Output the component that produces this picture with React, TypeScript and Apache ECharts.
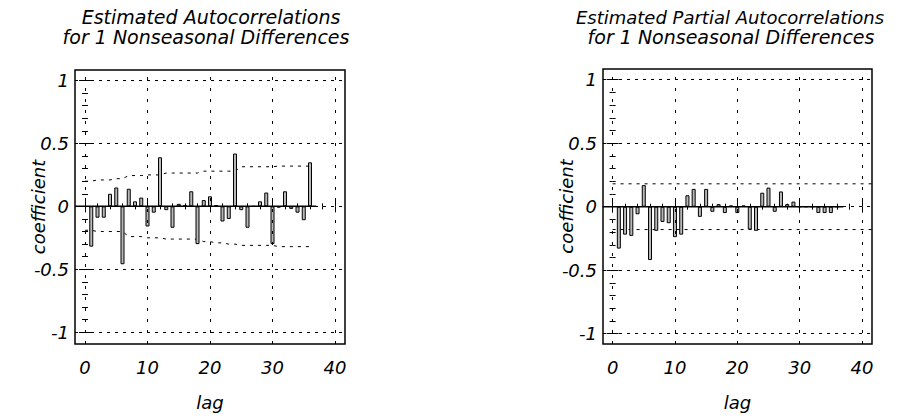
import React, { useEffect, useRef } from 'react';
import * as echarts from 'echarts';

const FONT = '"DejaVu Sans", "Liberation Sans", sans-serif';

// lags of the bars
const lags = [1, 2, 3, 4, 5, 6, 7, 8, 9, 10, 11, 12, 13, 14, 15, 16, 17, 18, 19, 20, 21, 22, 23, 24, 25, 26, 27, 28, 29, 30, 31, 32, 33, 34, 35, 36];

// estimated autocorrelations (left)
const acfValues = [-0.32, -0.09, -0.09, 0.1, 0.15, -0.46, 0.14, 0.04, 0.07, -0.16, -0.05, 0.39, -0.03, -0.17, 0.02, 0.01, 0.12, -0.3, 0.05, 0.08, 0.01, -0.12, -0.1, 0.42, -0.03, -0.17, 0.0, 0.04, 0.11, -0.3, -0.01, 0.12, -0.02, -0.05, -0.11, 0.35];

// confidence band of the autocorrelations (left)
const acfBandLags = [0, 1, 2, 3, 4, 5, 6, 7, 8, 9, 10, 11, 12, 13, 14, 15, 16, 17, 18, 19, 20, 21, 22, 23, 24, 25, 26, 27, 28, 29, 30, 31, 32, 33, 34, 35, 36];
const acfBandUpper = [0.2, 0.2, 0.21, 0.21, 0.21, 0.22, 0.22, 0.245, 0.245, 0.245, 0.25, 0.25, 0.25, 0.265, 0.265, 0.265, 0.265, 0.265, 0.265, 0.28, 0.28, 0.28, 0.28, 0.28, 0.28, 0.315, 0.315, 0.315, 0.315, 0.315, 0.315, 0.32, 0.32, 0.32, 0.32, 0.32, 0.32];
const acfBandLower = [-0.19, -0.19, -0.2, -0.2, -0.2, -0.2, -0.2, -0.24, -0.24, -0.24, -0.25, -0.25, -0.25, -0.26, -0.26, -0.26, -0.26, -0.26, -0.26, -0.28, -0.28, -0.29, -0.29, -0.3, -0.3, -0.31, -0.31, -0.31, -0.31, -0.31, -0.31, -0.32, -0.32, -0.32, -0.32, -0.32, -0.32];

// estimated partial autocorrelations (right)
const pacfValues = [-0.33, -0.22, -0.23, -0.06, 0.17, -0.42, -0.19, -0.12, -0.13, -0.24, -0.22, 0.09, 0.14, -0.08, 0.14, -0.04, 0.02, -0.05, 0.01, -0.05, 0.01, -0.18, -0.19, 0.11, 0.15, -0.04, 0.12, 0.02, 0.04, 0.0, 0.0, 0.0, -0.05, -0.05, -0.05, 0.0];

// confidence band of the partial autocorrelations (right)
const pacfBandLags = [0, 41.6];
const pacfBandUpper = [0.18, 0.18];
const pacfBandLower = [-0.18, -0.18];

// solid zero line extent
const zeroLineLags = [-1.6, 37];

// ticks
const xTickLabels = [0, 10, 20, 30, 40];
const yTickLabels = [-1, -0.5, 0, 0.5, 1];
const xMinorTicks = [2, 4, 6, 8, 12, 14, 16, 18, 22, 24, 26, 28, 32, 34, 36, 38];
const yMinorTicks = [-0.9, -0.8, -0.7, -0.6, -0.4, -0.3, -0.2, -0.1, 0.1, 0.2, 0.3, 0.4, 0.6, 0.7, 0.8, 0.9];

const titleLines = [
  ['Estimated Autocorrelations', 'for 1 Nonseasonal Differences'],
  ['Estimated Partial Autocorrelations', 'for 1 Nonseasonal Differences'],
];

const textStyle = { color: '#000', fontSize: 18, fontStyle: 'italic' as const, fontFamily: FONT };

function buildAxes(gridIndex: number, xMin: number, xMax: number, yMin: number, yMax: number) {
  const tickLine = { color: '#000', width: 1 };
  const xBase = (position: string) => ({
    gridIndex,
    type: 'value',
    position,
    min: xMin,
    max: xMax,
    axisLine: { show: false },
    splitLine: { show: false },
  });
  const yBase = (position: string) => ({
    gridIndex,
    type: 'value',
    position,
    min: yMin,
    max: yMax,
    axisLine: { show: false },
    splitLine: { show: false },
  });
  const xAxes = [
    {
      ...xBase('bottom'),
      axisTick: { show: true, inside: true, length: 6, customValues: xTickLabels, lineStyle: tickLine },
      axisLabel: { show: true, customValues: xTickLabels, margin: 14, ...textStyle },
      name: 'lag',
      nameLocation: 'middle',
      nameGap: 49,
      nameMoveOverlap: false,
      nameTextStyle: textStyle,
    },
    {
      ...xBase('bottom'),
      axisTick: { show: true, inside: true, length: 3, customValues: xMinorTicks, lineStyle: tickLine },
      axisLabel: { show: false },
    },
    {
      ...xBase('top'),
      axisTick: { show: true, inside: true, length: 6, customValues: xTickLabels, lineStyle: tickLine },
      axisLabel: { show: false },
    },
    {
      ...xBase('top'),
      axisTick: { show: true, inside: true, length: 3, customValues: xMinorTicks, lineStyle: tickLine },
      axisLabel: { show: false },
    },
  ];
  const yAxes = [
    {
      ...yBase('left'),
      axisTick: { show: true, inside: true, length: 6, customValues: yTickLabels, lineStyle: tickLine },
      axisLabel: { show: true, customValues: yTickLabels, margin: 6, ...textStyle },
      name: 'coefficient',
      nameLocation: 'middle',
      nameGap: 28,
      nameRotate: 90,
      nameMoveOverlap: false,
      nameTextStyle: textStyle,
    },
    {
      ...yBase('left'),
      axisTick: { show: true, inside: true, length: 3, customValues: yMinorTicks, lineStyle: tickLine },
      axisLabel: { show: false },
    },
    {
      ...yBase('right'),
      axisTick: { show: true, inside: true, length: 6, customValues: yTickLabels, lineStyle: tickLine },
      axisLabel: { show: false },
    },
    {
      ...yBase('right'),
      axisTick: { show: true, inside: true, length: 3, customValues: yMinorTicks, lineStyle: tickLine },
      axisLabel: { show: false },
    },
  ];
  return { xAxes, yAxes };
}

function buildSeries(
  gridIndex: number,
  values: number[],
  bandLags: number[],
  upper: number[],
  lower: number[]
) {
  const axisIdx = { xAxisIndex: gridIndex * 4, yAxisIndex: gridIndex * 4 };
  const bandStyle = { color: '#000', width: 1, type: [3, 5] };
  return [
    {
      type: 'bar',
      ...axisIdx,
      barWidth: 4,
      data: lags.map((l, i) => [l, values[i]]),
      itemStyle: { color: '#b8b8b8', borderColor: '#000', borderWidth: 1 },
      silent: true,
      z: 3,
    },
    {
      type: 'line',
      ...axisIdx,
      data: bandLags.map((l, i) => [l, upper[i]]),
      symbol: 'none',
      lineStyle: bandStyle,
      silent: true,
      z: 2,
    },
    {
      type: 'line',
      ...axisIdx,
      data: bandLags.map((l, i) => [l, lower[i]]),
      symbol: 'none',
      lineStyle: bandStyle,
      silent: true,
      z: 2,
    },
    {
      type: 'line',
      ...axisIdx,
      data: zeroLineLags.map((l) => [l, 0]),
      symbol: 'none',
      lineStyle: { color: '#000', width: 1.5, type: 'solid' },
      silent: true,
      z: 4,
      markLine: {
        silent: true,
        symbol: 'none',
        label: { show: false },
        animation: false,
        data: [
          ...xTickLabels.map((v) => ({ xAxis: v, lineStyle: { color: '#000', width: 1, type: [3, 8] } })),
          ...yTickLabels.map((v) => ({ yAxis: v, lineStyle: { color: '#000', width: 1, type: [3, 5] } })),
        ],
      },
    },
  ];
}

function titleText(text: string, x: number, y: number, size: number) {
  return {
    type: 'text',
    x,
    y,
    style: {
      text,
      font: `italic ${size}px ${FONT}`,
      fill: '#000',
      align: 'center',
      verticalAlign: 'top',
      lineHeight: 20,
    },
  };
}

export default function App() {
  const ref = useRef<HTMLDivElement>(null);
  useEffect(() => {
    if (!ref.current) return;
    const chart = echarts.init(ref.current, undefined, { renderer: 'svg' });
    const left = buildAxes(0, -1.6, 41.6, -1.094, 1.084);
    const right = buildAxes(1, -1.54, 41.6, -1.081, 1.084);
    const option = {
      animation: false,
      backgroundColor: '#fff',
      graphic: [
        titleText(titleLines[0][0], 211, 7, 19),
        titleText(titleLines[0][1], 206, 27, 19),
        titleText(titleLines[1][0], 730, 7, 18),
        titleText(titleLines[1][1], 731, 27, 19),
      ],
      grid: [
        { left: 75, top: 70, width: 270, height: 277, show: true, borderColor: '#000', borderWidth: 1.5, backgroundColor: 'transparent' },
        { left: 603, top: 69, width: 269, height: 275, show: true, borderColor: '#000', borderWidth: 1.5, backgroundColor: 'transparent' },
      ],
      xAxis: [...left.xAxes, ...right.xAxes],
      yAxis: [...left.yAxes, ...right.yAxes],
      series: [
        ...buildSeries(0, acfValues, acfBandLags, acfBandUpper, acfBandLower),
        ...buildSeries(1, pacfValues, pacfBandLags, pacfBandUpper, pacfBandLower),
      ],
    };
    chart.setOption(option as any);
    return () => chart.dispose();
  }, []);
  return (
    <div
      ref={ref}
      style={{ position: 'fixed', left: 0, top: 0, width: 904, height: 416, background: '#fff' }}
    />
  );
}
